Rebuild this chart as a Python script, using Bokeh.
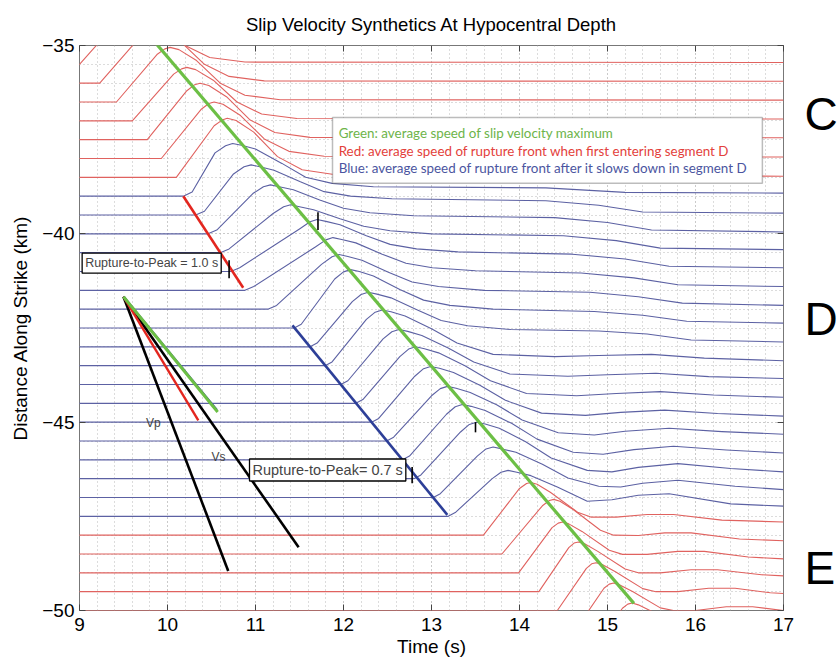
from bokeh.plotting import figure
from bokeh.layouts import row
from bokeh.models import (Range1d, SingleIntervalTicker, LinearAxis, Label,
                          BoxAnnotation, ColumnDataSource, Title)
from bokeh.core.properties import value
from bokeh.embed import file_html
from bokeh.resources import INLINE

# ---------------------------------------------------------------- data
# Baseline (distance along strike, km) of every synthetic trace, top to bottom
BASELINE_KM = [-35.0, -35.5, -36.0, -36.5, -37.0, -37.5, -38.0, -38.5,          # segment C
               -39.0, -39.5, -40.0, -40.5, -41.0, -41.5, -42.0, -42.5, -43.0,   # segment D
               -43.5, -44.0, -44.5, -45.0, -45.5, -46.0, -46.5, -47.0, -47.5,
               -48.0, -48.5, -49.0, -49.5, -50.0, -50.5, -51.0]                 # segment E
SEGMENT = ["C"] * 8 + ["D"] * 18 + ["E"] * 7

# Slip-velocity waveform of each trace: sample times (s) and amplitude above baseline (km)
TRACE_T = [
    [8.5, 8.82, 9.30, 9.39, 9.45, 9.55, 9.75, 10.02, 10.30, 10.70, 17],
    [8.5, 9.00, 9.48, 9.57, 9.63, 9.73, 9.93, 10.20, 10.48, 10.88, 17],
    [8.5, 9.23, 9.70, 9.79, 9.85, 9.95, 10.15, 10.42, 10.70, 11.10, 17],
    [8.5, 9.42, 9.88, 9.97, 10.03, 10.13, 10.33, 10.60, 10.88, 11.28, 17],
    [8.5, 9.60, 10.07, 10.16, 10.22, 10.32, 10.52, 10.79, 11.07, 11.47, 17],
    [8.5, 9.77, 10.22, 10.31, 10.37, 10.47, 10.67, 10.94, 11.22, 11.62, 17],
    [8.5, 9.93, 10.38, 10.47, 10.53, 10.63, 10.83, 11.10, 11.38, 11.78, 17],
    [8.5, 10.10, 10.53, 10.62, 10.68, 10.78, 10.98, 11.25, 11.53, 11.93, 17],
    [8.5, 10.18, 10.28, 10.54, 10.66, 10.74, 10.84, 11.00, 11.30, 11.57, 11.87, 12.34, 14.30, 15.20, 17],
    [8.5, 10.32, 10.42, 10.75, 10.87, 10.95, 11.05, 11.21, 11.51, 11.78, 12.08, 12.55, 14.30, 14.90, 15.40, 17],
    [8.5, 10.46, 10.56, 10.97, 11.09, 11.17, 11.27, 11.43, 11.73, 12.00, 12.30, 12.80, 14.40, 15.00, 15.50, 17],
    [8.5, 10.60, 10.70, 11.20, 11.32, 11.40, 11.50, 11.66, 11.96, 12.23, 12.53, 13.00, 14.50, 15.10, 15.60, 17],
    [8.5, 10.72, 10.82, 11.50, 11.62, 11.70, 11.80, 11.96, 12.26, 12.53, 12.83, 13.30, 14.60, 15.20, 15.70, 17],
    [8.5, 10.88, 10.98, 11.68, 11.80, 11.88, 11.98, 12.14, 12.44, 12.71, 13.01, 13.50, 14.70, 15.30, 15.80, 17],
    [8.5, 11.14, 11.24, 11.75, 11.87, 11.95, 12.05, 12.21, 12.51, 12.78, 13.08, 13.60, 14.80, 15.35, 15.85, 17],
    [8.5, 11.44, 11.52, 11.90, 12.00, 12.08, 12.18, 12.34, 12.64, 12.91, 13.21, 13.70, 14.85, 15.40, 15.90, 17],
    [8.5, 11.62, 11.70, 12.10, 12.20, 12.28, 12.38, 12.54, 12.84, 13.11, 13.41, 13.90, 14.90, 15.45, 15.95, 17],
    [8.5, 11.79, 11.87, 12.26, 12.36, 12.44, 12.54, 12.70, 13.00, 13.29, 13.70, 14.40, 14.90, 15.50, 16.10, 17],
    [8.5, 11.97, 12.05, 12.45, 12.55, 12.63, 12.73, 12.89, 13.19, 13.48, 13.89, 14.55, 15.00, 15.55, 16.15, 17],
    [8.5, 12.14, 12.22, 12.64, 12.74, 12.82, 12.92, 13.08, 13.38, 13.67, 14.08, 14.65, 15.10, 15.60, 16.20, 17],
    [8.5, 12.32, 12.40, 12.81, 12.91, 12.99, 13.09, 13.25, 13.55, 13.84, 14.25, 14.75, 15.15, 15.65, 16.25, 17],
    [8.5, 12.49, 12.57, 13.00, 13.10, 13.18, 13.28, 13.44, 13.74, 14.03, 14.44, 14.85, 15.20, 15.70, 16.30, 17],
    [8.5, 12.67, 12.75, 13.17, 13.27, 13.35, 13.45, 13.61, 13.91, 14.20, 14.61, 14.95, 15.30, 15.75, 16.35, 17],
    [8.5, 12.80, 12.88, 13.33, 13.43, 13.51, 13.61, 13.77, 14.07, 14.36, 14.77, 15.05, 15.35, 15.80, 16.40, 17],
    [8.5, 13.02, 13.10, 13.52, 13.62, 13.70, 13.80, 13.96, 14.26, 14.55, 14.90, 15.15, 15.40, 15.80, 16.45, 17],
    [8.5, 13.19, 13.27, 13.69, 13.79, 13.87, 13.97, 14.13, 14.43, 14.77, 15.05, 15.35, 15.70, 16.40, 17],
    [8.5, 13.59, 14.00, 14.08, 14.13, 14.20, 14.35, 14.66, 14.81, 15.10, 15.45, 15.75, 16.30, 17],
    [8.5, 13.80, 14.26, 14.34, 14.39, 14.46, 14.61, 14.92, 15.07, 15.35, 15.65, 15.95, 16.50, 17],
    [8.5, 13.99, 14.37, 14.44, 14.49, 14.56, 14.71, 15.02, 15.17, 15.45, 15.80, 16.10, 16.60, 17],
    [8.5, 14.22, 14.56, 14.62, 14.67, 14.74, 14.89, 15.20, 15.35, 15.60, 15.95, 16.25, 16.75, 17],
    [8.5, 14.43, 14.76, 14.82, 14.87, 14.94, 15.09, 15.40, 15.55, 15.80, 16.15, 16.45, 16.85, 17],
    [8.5, 14.64, 14.96, 15.02, 15.07, 15.14, 15.29, 15.60, 15.75, 16.00, 16.35, 16.65, 17],
    [8.5, 14.85, 15.17, 15.23, 15.28, 15.35, 15.50, 15.81, 15.96, 16.26, 16.70, 17],
]
TRACE_V = [
    [0, 0, 1.26, 1.41, 1.45, 1.39, 1.10, 0.50, 0.18, 0.06, 0.05],
    [0, 0, 1.26, 1.41, 1.45, 1.39, 1.10, 0.50, 0.18, 0.06, 0.05],
    [0, 0, 1.26, 1.41, 1.45, 1.39, 1.10, 0.50, 0.18, 0.06, 0.05],
    [0, 0, 1.26, 1.41, 1.45, 1.39, 1.10, 0.50, 0.18, 0.06, 0.05],
    [0, 0, 1.24, 1.38, 1.42, 1.36, 1.08, 0.50, 0.18, 0.06, 0.05],
    [0, 0, 1.30, 1.46, 1.50, 1.44, 1.14, 0.52, 0.19, 0.06, 0.05],
    [0, 0, 1.30, 1.46, 1.50, 1.44, 1.14, 0.52, 0.19, 0.06, 0.04],
    [0, 0, 1.37, 1.52, 1.57, 1.51, 1.20, 0.55, 0.20, 0.06, 0.03],
    [0, 0, 0.11, 1.15, 1.34, 1.40, 1.35, 1.25, 0.87, 0.50, 0.34, 0.25, 0.22, 0.10, 0.08],
    [0, 0, 0.10, 1.09, 1.28, 1.33, 1.28, 1.19, 0.88, 0.62, 0.50, 0.43, 0.38, 0.26, 0.08, 0.05],
    [0, 0, 0.10, 1.07, 1.25, 1.30, 1.25, 1.17, 0.90, 0.68, 0.56, 0.48, 0.43, 0.30, 0.10, 0.05],
    [0, 0, 0.10, 1.04, 1.22, 1.27, 1.22, 1.14, 0.90, 0.70, 0.58, 0.50, 0.45, 0.32, 0.12, 0.08],
    [0, 0, 0.10, 1.13, 1.32, 1.38, 1.33, 1.24, 0.95, 0.72, 0.60, 0.52, 0.46, 0.33, 0.14, 0.10],
    [0, 0, 0.10, 1.15, 1.34, 1.40, 1.35, 1.26, 0.96, 0.72, 0.60, 0.52, 0.46, 0.33, 0.15, 0.10],
    [0, 0, 0.10, 1.19, 1.39, 1.45, 1.40, 1.30, 0.98, 0.72, 0.60, 0.50, 0.45, 0.33, 0.16, 0.10],
    [0, 0, 0.10, 1.30, 1.49, 1.55, 1.50, 1.38, 1.02, 0.74, 0.60, 0.50, 0.44, 0.34, 0.18, 0.13],
    [0, 0, 0.10, 1.20, 1.39, 1.45, 1.40, 1.30, 0.98, 0.70, 0.56, 0.46, 0.42, 0.34, 0.18, 0.13],
    [0, 0, 0.10, 1.23, 1.42, 1.48, 1.43, 1.32, 0.98, 0.60, 0.30, 0.24, 0.27, 0.30, 0.20, 0.13],
    [0, 0, 0.10, 1.21, 1.40, 1.46, 1.41, 1.30, 0.97, 0.60, 0.28, 0.22, 0.26, 0.30, 0.21, 0.16],
    [0, 0, 0.10, 1.24, 1.44, 1.50, 1.45, 1.34, 1.00, 0.60, 0.26, 0.20, 0.26, 0.31, 0.22, 0.16],
    [0, 0, 0.10, 1.22, 1.42, 1.48, 1.43, 1.32, 0.98, 0.58, 0.24, 0.18, 0.26, 0.32, 0.23, 0.16],
    [0, 0, 0.10, 1.20, 1.39, 1.45, 1.40, 1.29, 0.96, 0.56, 0.22, 0.16, 0.26, 0.34, 0.25, 0.18],
    [0, 0, 0.10, 1.21, 1.41, 1.47, 1.42, 1.31, 0.97, 0.55, 0.20, 0.15, 0.27, 0.36, 0.26, 0.18],
    [0, 0, 0.10, 1.24, 1.44, 1.50, 1.45, 1.34, 0.98, 0.55, 0.22, 0.18, 0.30, 0.40, 0.27, 0.18],
    [0, 0, 0.10, 1.10, 1.29, 1.34, 1.29, 1.20, 0.88, 0.52, 0.30, 0.28, 0.38, 0.46, 0.30, 0.21],
    [0, 0, 0.10, 1.00, 1.17, 1.22, 1.17, 1.08, 0.78, 0.40, 0.44, 0.56, 0.60, 0.33, 0.27],
    [0, 0, 1.24, 1.37, 1.40, 1.35, 1.14, 0.61, 0.48, 0.48, 0.55, 0.55, 0.40, 0.35],
    [0, 0, 1.28, 1.42, 1.45, 1.40, 1.18, 0.63, 0.50, 0.49, 0.56, 0.56, 0.40, 0.35],
    [0, 0, 1.20, 1.32, 1.35, 1.30, 1.10, 0.60, 0.49, 0.49, 0.57, 0.57, 0.42, 0.37],
    [0, 0, 1.17, 1.29, 1.32, 1.27, 1.07, 0.60, 0.50, 0.50, 0.58, 0.58, 0.45, 0.42],
    [0, 0, 1.12, 1.24, 1.27, 1.22, 1.03, 0.58, 0.50, 0.50, 0.59, 0.59, 0.47, 0.45],
    [0, 0, 1.09, 1.20, 1.23, 1.18, 1.00, 0.57, 0.50, 0.50, 0.60, 0.60, 0.50],
    [0, 0, 1.06, 1.17, 1.20, 1.15, 0.98, 0.56, 0.50, 0.50, 0.60, 0.50],
]

# Average-speed fits (time s, distance km)
GREEN_T, GREEN_D = [9.86, 15.30], [-34.92, -49.81]   # slip-velocity maximum
RED_T, RED_D = [10.18, 10.86], [-39.00, -41.43]       # rupture front entering D
BLUE_T, BLUE_D = [11.42, 13.18], [-42.43, -47.46]     # rupture front after slowing in D

# Reference slopes drawn from a common origin
REF_ORIGIN = (9.50, -41.67)
REF_END = {"Vp": (10.69, -48.95), "Vs": (11.49, -48.32),
           "red": (10.35, -44.95), "blue": (10.56, -44.68), "green": (10.57, -44.73)}

# Rupture-time / peak-time markers
MARK_T = [10.70, 11.71, 12.78, 13.50]
MARK_D0 = [-40.70, -39.43, -46.19, -45.00]
MARK_D1 = [-41.18, -39.90, -46.62, -45.27]

SEGMENT_LABELS = ["C", "D", "E"]
SEGMENT_LABEL_D = [-36.82, -42.27, -48.87]

SEG_COLOR = {"C": "#e0625f", "D": "#5c61a3", "E": "#e0625f"}
FONT = "Liberation Sans"

# ---------------------------------------------------------------- figure
p = figure(width=800, height=660, output_backend="svg", toolbar_location=None,
           x_range=Range1d(9, 17), y_range=Range1d(-50, -35),
           min_border_left=79, min_border_right=17, min_border_top=45,
           min_border_bottom=50, background_fill_color="white",
           border_fill_color="white")
p.outline_line_color = "#777777"
p.outline_line_width = 1

p.title = Title(text="Slip Velocity Synthetics At Hypocentral Depth", align="center",
                text_font=FONT, text_font_size="18.5px", text_font_style="normal",
                text_color="black", standoff=21)

p.xaxis.ticker = SingleIntervalTicker(interval=1, num_minor_ticks=5)
p.yaxis.ticker = SingleIntervalTicker(interval=5, num_minor_ticks=10)
for g in (p.xgrid, p.ygrid):
    g.grid_line_color = "#b8b8b8"
    g.grid_line_dash = "1 3"
    g.minor_grid_line_color = "#b8b8b8"
    g.minor_grid_line_dash = "1 3"
for ax in (p.xaxis, p.yaxis):
    ax.axis_line_color = None
    ax.major_tick_in = 6
    ax.major_tick_out = 0
    ax.minor_tick_in = 0
    ax.minor_tick_out = 0
    ax.major_tick_line_color = "#444444"
    ax.major_label_text_font = FONT
    ax.major_label_text_font_size = "19px"
    ax.major_label_text_color = "black"
    ax.axis_label_text_font = FONT
    ax.axis_label_text_font_size = "19px"
    ax.axis_label_text_font_style = "normal"
    ax.axis_label_text_color = "black"
p.xaxis.axis_label = "Time (s)"
p.yaxis.axis_label = "Distance Along Strike (km)"
p.xaxis.major_label_standoff = 7
p.xaxis.axis_label_standoff = 2
p.yaxis.major_label_standoff = 5
p.yaxis.axis_label_standoff = 8
p.yaxis.major_label_overrides = {v: "\u2212" + str(abs(v)) for v in (-35, -40, -45, -50)}

# tick marks only (no labels) on the top and right edges of the box
for side, ticker in (("above", SingleIntervalTicker(interval=1)),
                     ("right", SingleIntervalTicker(interval=5))):
    ax = LinearAxis(ticker=ticker, axis_line_color=None, major_tick_in=6,
                    major_tick_out=0, minor_tick_in=0, minor_tick_out=0,
                    major_tick_line_color="#444444", major_label_text_color=None,
                    major_label_standoff=0)
    p.add_layout(ax, side)

# ---------------------------------------------------------------- traces
xs, ys, cols = [], [], []
for base, seg, tt, vv in zip(BASELINE_KM, SEGMENT, TRACE_T, TRACE_V):
    xs.append(tt)
    ys.append([base + v for v in vv])
    cols.append(SEG_COLOR[seg])
p.multi_line(xs="xs", ys="ys", line_color="cols", line_width=1.1,
             line_join="round",
             source=ColumnDataSource(dict(xs=xs, ys=ys, cols=cols)))

# ---------------------------------------------------------------- speed fits
p.line(GREEN_T, GREEN_D, line_color="#6cbf45", line_width=3.2)
p.line(RED_T, RED_D, line_color="#e3261f", line_width=2.6)
p.line(BLUE_T, BLUE_D, line_color="#2d3f98", line_width=2.6)

for key, col, w in (("Vp", "black", 2.6), ("Vs", "black", 2.6), ("red", "#e3261f", 2.4),
                    ("blue", "#2d3f98", 2.4), ("green", "#6cbf45", 3.0)):
    ex, ey = REF_END[key]
    p.line([REF_ORIGIN[0], ex], [REF_ORIGIN[1], ey], line_color=col, line_width=w)

p.segment(x0=MARK_T, y0=MARK_D0, x1=MARK_T, y1=MARK_D1, line_color="black", line_width=1.6)

p.add_layout(Label(x=9.84, y=-45.03, text="Vp", text_font=FONT, text_font_size="12px",
                   text_align="center", text_baseline="middle"))
p.add_layout(Label(x=10.58, y=-45.93, text="Vs", text_font=FONT, text_font_size="12px",
                   text_align="center", text_baseline="middle"))

# ---------------------------------------------------------------- annotations
box_style = dict(text_font=FONT, text_baseline="middle",
                 background_fill_color="white", border_line_color="black",
                 border_line_width=1.3, padding=3)
p.add_layout(Label(x=9.03, y=-40.78, text="Rupture-to-Peak = 1.0 s",
                   text_font_size="12.5px", text_align="left", **box_style))
p.add_layout(Label(x=11.82, y=-46.27, text="Rupture-to-Peak= 0.7 s",
                   text_font_size="14.5px", text_align="center", **box_style))

p.add_layout(BoxAnnotation(left=11.875, right=16.76, top=-36.91, bottom=-38.66,
                           fill_color="white", fill_alpha=1.0, line_color="#222222",
                           line_width=1.5))
legend_rows = [("Green: average speed of slip velocity maximum", "#6db44a", -37.33),
               ("Red:  average speed of rupture front when first entering segment D", "#e3413b", -37.80),
               ("Blue: average speed of rupture front after it slows down in segment D", "#4b55a0", -38.25)]
for txt, col, yy in legend_rows:
    p.add_layout(Label(x=11.945, y=yy, text=txt, text_font="Lato", text_font_size="13.4px",
                       text_color=col, text_baseline="middle"))

# ---------------------------------------------------------------- segment letters
seg = figure(width=39, height=660, output_backend="svg", toolbar_location=None,
             x_range=Range1d(0, 1), y_range=p.y_range, min_border_left=0,
             min_border_right=0, min_border_top=45, min_border_bottom=50,
             outline_line_color=None, background_fill_color="white",
             border_fill_color="white")
seg.axis.visible = False
seg.grid.visible = False
seg.text(x=[0.1] * 3, y=SEGMENT_LABEL_D, text=SEGMENT_LABELS,
         text_font=value(FONT), text_font_size=value("46px"), text_baseline="middle",
         text_color="black")

layout = row(p, seg)
open("out.html", "w").write(file_html(layout, INLINE))
